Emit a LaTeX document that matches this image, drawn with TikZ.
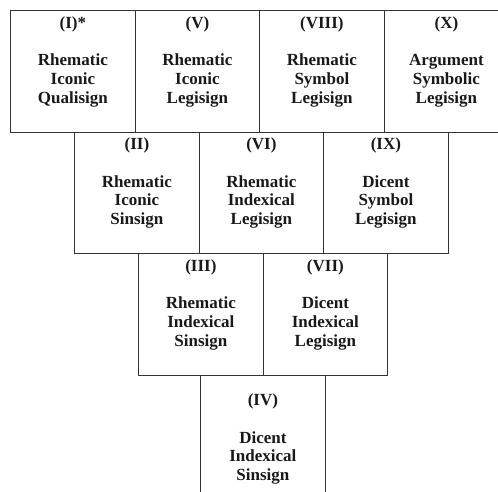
\documentclass[tikz,border=0pt]{standalone}
\usepackage{fontspec}
\setmainfont{Liberation Serif}
\begin{document}
\begin{tikzpicture}[x=1pt,y=-1pt,
  cell/.style={draw=black!80, line width=1.3pt, minimum width=124.5pt, minimum height=121.5pt, anchor=north west, inner sep=0pt},
  txt/.style={anchor=north, align=center, font=\bfseries\fontsize{17}{18.8}\selectfont, inner sep=0pt, text=black!90, yshift=-6pt}]
\useasboundingbox (0,0) rectangle (498,491);
% row 1
\node[cell] (b1) at (10,10) {};
\node[cell] (b5) at (134.5,10) {};
\node[cell] (b8) at (259,10) {};
\node[cell] (b10) at (383.5,10) {};
% row 2
\node[cell] (b2) at (74,131.5) {};
\node[cell] (b6) at (198.5,131.5) {};
\node[cell] (b9) at (323,131.5) {};
% row 3
\node[cell] (b3) at (138,253) {};
\node[cell] (b7) at (262.5,253) {};
% row 4
\node[cell, minimum height=140pt] (b4) at (200,374.5) {};
% texts
\node[txt] (t1) at (b1.north) {(I)*\\[18.8pt]Rhematic\\Iconic\\Qualisign};
\node[txt] (t5) at (b5.north) {(V)\\[18.8pt]Rhematic\\Iconic\\Legisign};
\node[txt] (t8) at (b8.north) {(VIII)\\[18.8pt]Rhematic\\Symbol\\Legisign};
\node[txt] (t10) at (b10.north) {(X)\\[18.8pt]Argument\\Symbolic\\Legisign};
\node[txt] (t2) at (b2.north) {(II)\\[18.8pt]Rhematic\\Iconic\\Sinsign};
\node[txt] (t6) at (b6.north) {(VI)\\[18.8pt]Rhematic\\Indexical\\Legisign};
\node[txt] (t9) at (b9.north) {(IX)\\[18.8pt]Dicent\\Symbol\\Legisign};
\node[txt] (t3) at (b3.north) {(III)\\[18.8pt]Rhematic\\Indexical\\Sinsign};
\node[txt] (t7) at (b7.north) {(VII)\\[18.8pt]Dicent\\Indexical\\Legisign};
\node[txt, yshift=-13pt] (t4) at (b4.north) {(IV)\\[18.8pt]Dicent\\Indexical\\Sinsign};
\end{tikzpicture}
\end{document}
